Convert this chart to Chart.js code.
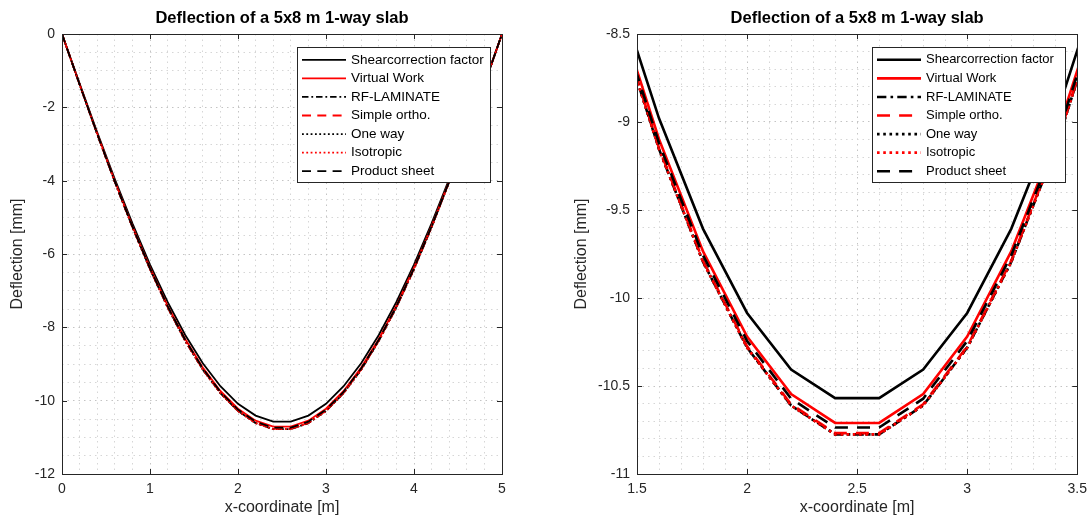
<!DOCTYPE html>
<html>
<head>
<meta charset="utf-8">
<title>Deflection of a 5x8 m 1-way slab</title>
<script src="https://cdn.jsdelivr.net/npm/chart.js@4/dist/chart.umd.min.js"></script>
<style>
  body { margin: 0; background: #fff; overflow: hidden; }
  #wrap { position: relative; width: 1090px; height: 523px; overflow: hidden; }
  canvas { position: absolute; top: 0; }
</style>
</head>
<body>
<div id="wrap">
  <canvas id="leftChart" width="545" height="523" style="left:0"></canvas>
  <canvas id="rightChart" width="549" height="523" style="left:545px"></canvas>
</div>
<script>
// x positions along the 5 m span
const xCoord = [0, 0.2, 0.4, 0.6, 0.8, 1.0, 1.2, 1.4, 1.6, 1.8, 2.0, 2.2, 2.4,
                2.6, 2.8, 3.0, 3.2, 3.4, 3.6, 3.8, 4.0, 4.2, 4.4, 4.6, 4.8, 5.0];

// deflection [mm] per method
const shearCorrection = [0, -1.351, -2.678, -3.957, -5.167, -6.290, -7.309, -8.209, -8.979, -9.607, -10.085, -10.407, -10.569,
                         -10.569, -10.407, -10.085, -9.607, -8.979, -8.209, -7.309, -6.290, -5.167, -3.957, -2.678, -1.351, 0];
const virtualWork = [0, -1.369, -2.713, -4.009, -5.236, -6.373, -7.406, -8.318, -9.098, -9.735, -10.219, -10.546, -10.710,
                     -10.710, -10.546, -10.219, -9.735, -9.098, -8.318, -7.406, -6.373, -5.236, -4.009, -2.713, -1.369, 0];
const rfLaminate = [0, -1.378, -2.730, -4.034, -5.268, -6.413, -7.452, -8.370, -9.154, -9.795, -10.282, -10.611, -10.775,
                    -10.775, -10.611, -10.282, -9.795, -9.154, -8.370, -7.452, -6.413, -5.268, -4.034, -2.730, -1.378, 0];
const simpleOrtho = [0, -1.377, -2.728, -4.031, -5.264, -6.408, -7.447, -8.364, -9.148, -9.788, -10.275, -10.604, -10.768,
                     -10.768, -10.604, -10.275, -9.788, -9.148, -8.364, -7.447, -6.408, -5.264, -4.031, -2.728, -1.377, 0];
const oneWay = [0, -1.378, -2.730, -4.034, -5.268, -6.413, -7.452, -8.370, -9.154, -9.795, -10.282, -10.611, -10.775,
                -10.775, -10.611, -10.282, -9.795, -9.154, -8.370, -7.452, -6.413, -5.268, -4.034, -2.730, -1.378, 0];
const isotropic = [0, -1.378, -2.730, -4.034, -5.268, -6.413, -7.452, -8.370, -9.154, -9.795, -10.282, -10.611, -10.775,
                   -10.775, -10.611, -10.282, -9.795, -9.154, -8.370, -7.452, -6.413, -5.268, -4.034, -2.730, -1.378, 0];
const productSheet = [0, -1.373, -2.720, -4.019, -5.248, -6.389, -7.424, -8.339, -9.120, -9.758, -10.244, -10.572, -10.736,
                      -10.736, -10.572, -10.244, -9.758, -9.120, -8.339, -7.424, -6.389, -5.248, -4.019, -2.720, -1.373, 0];

const seriesLabels = ['Shearcorrection factor', 'Virtual Work', 'RF-LAMINATE', 'Simple ortho.', 'One way', 'Isotropic', 'Product sheet'];
const seriesValues = [shearCorrection, virtualWork, rfLaminate, simpleOrtho, oneWay, isotropic, productSheet];
const seriesColors = ['#000000', '#ff0000', '#000000', '#ff0000', '#000000', '#ff0000', '#000000'];
const seriesStyles = ['solid', 'solid', 'dashdot', 'dashed', 'dotted', 'dotted', 'dashed'];

const chartTitle = 'Deflection of a 5x8 m 1-way slab';
const fontFam = '"Liberation Sans", Arial, Helvetica, sans-serif';
const axisColor = '#262626';

function dashFor(style, lw) {
    if (style === 'dashed') return [lw * 5, lw * 3.5];
    if (style === 'dotted') return [lw * 1, lw * 1.4];
    if (style === 'dashdot') return [lw * 3.6, lw * 1.6, lw * 1, lw * 1.6];
    return [];
}

function isMultiple(v, step) {
    const r = v / step;
    return Math.abs(r - Math.round(r)) < 1e-6;
}

function fmt(v) {
    return String(Number(v.toFixed(2)));
}

// title over the plot area, box, inward ticks and the legend inside the axes (matlab look)
const matlabAxes = {
    id: 'matlabAxes',
    afterDatasetsDraw(chart, args, opts) {
        const ctx = chart.ctx;
        const a = chart.chartArea;
        const xs = chart.scales.x, ys = chart.scales.y;
        ctx.save();

        ctx.fillStyle = '#000000';
        ctx.font = 'bold 16.5px ' + fontFam;
        ctx.textAlign = 'center';
        ctx.textBaseline = 'middle';
        ctx.fillText(chartTitle, (a.left + a.right) / 2, 18);
        ctx.textAlign = 'left';

        ctx.strokeStyle = axisColor;
        ctx.lineWidth = 1;
        ctx.setLineDash([]);
        ctx.strokeRect(Math.round(a.left) + 0.5, Math.round(a.top) + 0.5,
                       Math.round(a.right - a.left), Math.round(a.bottom - a.top));

        const tl = 5;
        ctx.beginPath();
        xs.ticks.forEach(t => {
            if (!isMultiple(t.value, opts.xMajor)) return;
            const px = Math.round(xs.getPixelForValue(t.value)) + 0.5;
            ctx.moveTo(px, a.bottom); ctx.lineTo(px, a.bottom - tl);
            ctx.moveTo(px, a.top); ctx.lineTo(px, a.top + tl);
        });
        ys.ticks.forEach(t => {
            if (!isMultiple(t.value, opts.yMajor)) return;
            const py = Math.round(ys.getPixelForValue(t.value)) + 0.5;
            ctx.moveTo(a.left, py); ctx.lineTo(a.left + tl, py);
            ctx.moveTo(a.right, py); ctx.lineTo(a.right - tl, py);
        });
        ctx.stroke();

        // legend
        const lg = opts.legend;
        const dsets = chart.data.datasets;
        const x0 = Math.round(a.right - lg.right - lg.width) + 0.5;
        const y0 = Math.round(a.top + lg.top) + 0.5;
        ctx.fillStyle = '#ffffff';
        ctx.fillRect(x0, y0, lg.width, lg.height);
        ctx.strokeStyle = axisColor;
        ctx.lineWidth = 1;
        ctx.strokeRect(x0, y0, lg.width, lg.height);
        ctx.font = lg.fontSize + 'px ' + fontFam;
        ctx.textBaseline = 'middle';
        dsets.forEach((ds, i) => {
            const y = y0 + lg.first + i * lg.rowH;
            ctx.strokeStyle = ds.borderColor;
            ctx.lineWidth = ds.borderWidth;
            ctx.setLineDash(ds.borderDash);
            ctx.beginPath();
            ctx.moveTo(x0 + 4.5, y);
            ctx.lineTo(x0 + 48.5, y);
            ctx.stroke();
            ctx.setLineDash([]);
            ctx.fillStyle = '#000000';
            ctx.fillText(ds.label, x0 + 53.5, y);
        });
        ctx.restore();
    }
};

function buildChart(canvasId, c) {
    const datasets = seriesLabels.map((label, i) => ({
        label: label,
        data: xCoord.map((x, j) => ({ x: x, y: seriesValues[i][j] })),
        borderColor: seriesColors[i],
        backgroundColor: seriesColors[i],
        borderWidth: c.lineWidth,
        borderDash: dashFor(seriesStyles[i], c.lineWidth),
        pointRadius: 0,
        tension: 0,
        fill: false,
        order: seriesLabels.length - i
    }));

    const gridColor = (step) => (ctx) => isMultiple(ctx.tick.value, step) ? '#c4c4c4' : '#d6d6d6';

    return new Chart(document.getElementById(canvasId), {
        type: 'line',
        data: { datasets: datasets },
        options: {
            responsive: false,
            animation: false,
            events: [],
            layout: { padding: { left: 0, right: c.padRight, top: 34, bottom: 0 } },
            plugins: {
                legend: { display: false },
                tooltip: { enabled: false },
                title: { display: false },
                matlabAxes: {
                    xMajor: c.xMajor,
                    yMajor: c.yMajor,
                    legend: { right: 12, top: 13, width: 193, height: 135, first: 12.3, rowH: 18.57, fontSize: c.legendFont }
                }
            },
            scales: {
                x: {
                    type: 'linear',
                    min: c.xMin,
                    max: c.xMax,
                    afterFit: (s) => { s.height = 49; },
                    ticks: {
                        stepSize: c.xMinor,
                        maxTicksLimit: 1000,
                        autoSkip: false,
                        maxRotation: 0,
                        padding: 7,
                        color: axisColor,
                        font: { family: fontFam, size: 14 },
                        callback: (v) => isMultiple(v, c.xMajor) ? fmt(v) : ''
                    },
                    grid: { color: gridColor(c.xMajor), lineWidth: 1, drawTicks: false },
                    border: { display: false, dash: [1.5, 4] },
                    title: {
                        display: true,
                        text: 'x-coordinate [m]',
                        color: axisColor,
                        font: { family: fontFam, size: 16 },
                        padding: { top: 0, bottom: 5.4 }
                    }
                },
                y: {
                    type: 'linear',
                    min: c.yMin,
                    max: c.yMax,
                    afterFit: (s) => { s.width = c.yAxisWidth; },
                    ticks: {
                        stepSize: c.yMinor,
                        maxTicksLimit: 1000,
                        autoSkip: false,
                        padding: 7,
                        color: axisColor,
                        font: { family: fontFam, size: 14 },
                        callback: (v) => isMultiple(v, c.yMajor) ? fmt(v) : ''
                    },
                    grid: { color: gridColor(c.yMajor), lineWidth: 1, drawTicks: false },
                    border: { display: false, dash: [1.5, 4] },
                    title: {
                        display: true,
                        text: 'Deflection [mm]',
                        color: axisColor,
                        font: { family: fontFam, size: 16 },
                        padding: { top: c.yTitlePad, bottom: 0 }
                    }
                }
            }
        },
        plugins: [matlabAxes]
    });
}

// full span
buildChart('leftChart', {
    xMin: 0, xMax: 5, xMinor: 0.2, xMajor: 1,
    yMin: -12, yMax: 0, yMinor: 0.5, yMajor: 2,
    lineWidth: 1.8, yAxisWidth: 62, padRight: 43, yTitlePad: 8.4, legendFont: 13.5
});

// zoom on mid span
buildChart('rightChart', {
    xMin: 1.5, xMax: 3.5, xMinor: 0.1, xMajor: 0.5,
    yMin: -11, yMax: -8.5, yMinor: 0.1, yMajor: 0.5,
    lineWidth: 2.6, yAxisWidth: 92, padRight: 13, yTitlePad: 27.4, legendFont: 13
});
</script>
</body>
</html>
